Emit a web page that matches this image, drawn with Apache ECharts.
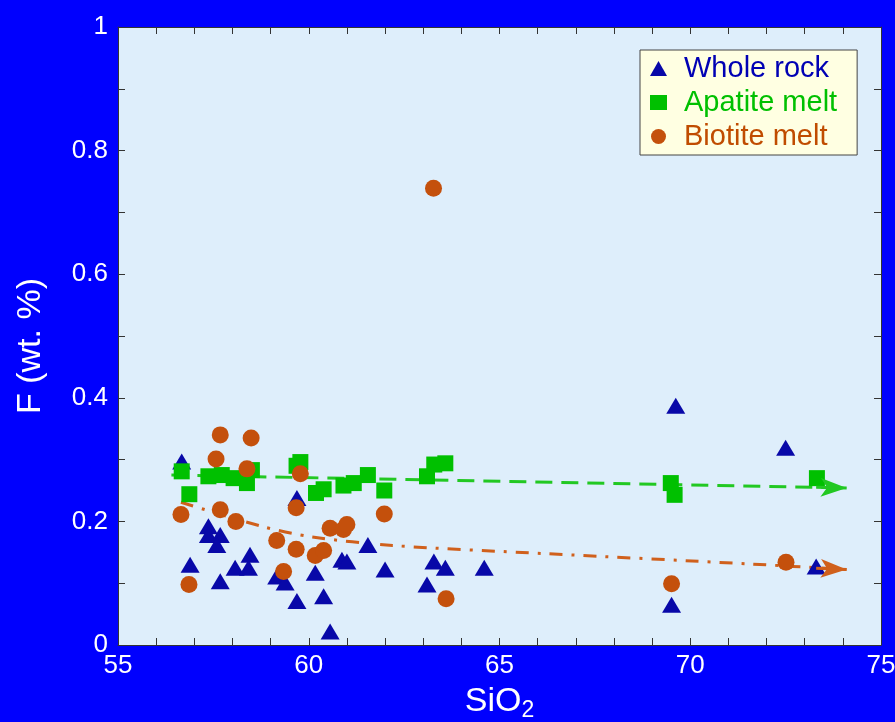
<!DOCTYPE html>
<html>
<head>
<meta charset="utf-8">
<script src="https://cdn.jsdelivr.net/npm/echarts@6/dist/echarts.min.js"></script>
<style>
  html, body { margin: 0; padding: 0; background: #0000fe; }
  #chart { width: 895px; height: 722px; }
</style>
</head>
<body>
<div id="chart"></div>
<script>
// SiO2 (x) vs F wt.% (y)
var wholeRock = [[56.67,0.297],[56.89,0.130],[57.37,0.192],[57.37,0.178],[57.68,0.178],[57.59,0.162],[57.68,0.103],[58.07,0.125],[58.42,0.125],[58.46,0.146],[59.16,0.111],[59.38,0.101],[59.69,0.238],[59.69,0.071],[60.17,0.117],[60.39,0.079],[60.56,0.022],[60.87,0.138],[61.0,0.135],[61.55,0.162],[62.0,0.122],[63.1,0.098],[63.28,0.135],[63.58,0.125],[64.6,0.125],[69.51,0.065],[69.62,0.387],[72.5,0.319],[73.3,0.127]];
var apatiteMelt = [[56.67,0.281],[56.87,0.244],[57.37,0.273],[57.72,0.275],[58.03,0.270],[58.38,0.262],[58.51,0.283],[59.68,0.290],[59.78,0.296],[60.19,0.246],[60.39,0.252],[60.91,0.258],[61.18,0.262],[61.55,0.275],[61.98,0.250],[63.1,0.273],[63.29,0.292],[63.58,0.294],[69.49,0.262],[69.59,0.243],[73.32,0.270]];
var biotiteMelt = [[56.65,0.211],[56.86,0.098],[57.57,0.301],[57.68,0.340],[57.68,0.219],[58.09,0.200],[58.38,0.285],[58.49,0.335],[59.16,0.169],[59.34,0.119],[59.67,0.222],[59.67,0.155],[59.78,0.277],[60.17,0.145],[60.39,0.153],[60.56,0.189],[60.91,0.187],[61.0,0.195],[61.98,0.212],[63.27,0.739],[63.60,0.075],[69.51,0.099],[72.51,0.134]];

// trend arrows
var greenTrend = [[56.4,0.275],[74.1,0.254]];
var orangeTrend = [[56.65,0.231],[58.77,0.192],[60.08,0.175],[62.2,0.161],[66.15,0.148],[71.6,0.131],[74.1,0.122]];
var greenHead = [[73.3,0.2553],[74.1,0.254]];
var orangeHead = [[73.3,0.1242],[74.1,0.122]];

var xTicks = [55, 60, 65, 70, 75];
var yTicks = [0, 0.2, 0.4, 0.6, 0.8, 1];

var font = 'Liberation Sans, Arial, sans-serif';
var frame = '#333';

var chart = echarts.init(document.getElementById('chart'));

function axisBase(extra) {
  var a = {
    type: 'value',
    axisLine: { show: true, onZero: false, lineStyle: { color: frame, width: 1 } },
    axisTick: { show: true, inside: true, length: 7, lineStyle: { color: frame } },
    splitLine: { show: false },
    axisLabel: { show: false }
  };
  for (var k in extra) a[k] = extra[k];
  return a;
}

function headLine(pts) {
  return {
    silent: true,
    symbol: ['none', 'arrow'],
    symbolSize: [14, 26],
    label: { show: false },
    lineStyle: { type: 'solid', width: 3 },
    animation: false,
    data: [[{ coord: pts[0] }, { coord: pts[1] }]]
  };
}

chart.setOption({
  backgroundColor: '#0000fe',
  animation: false,
  textStyle: { fontFamily: font },
  grid: {
    left: 118, right: 14, top: 27, bottom: 77,
    outerBoundsMode: 'none',
    containLabel: false,
    show: true, backgroundColor: '#deeefb', borderWidth: 0
  },
  legend: {
    left: 640, top: 50,
    orient: 'vertical',
    backgroundColor: '#ffffe2',
    borderColor: '#444',
    borderWidth: 1,
    padding: [4, 20, 4, 10],
    itemWidth: 17, itemHeight: 15,
    itemGap: 5,
    textStyle: { fontSize: 29, fontFamily: font, padding: [0, 0, 0, 12] },
    data: [
      { name: 'Whole rock', icon: 'triangle', textStyle: { color: '#0000b4' } },
      { name: 'Apatite melt', icon: 'rect', textStyle: { color: '#00c000' } },
      { name: 'Biotite melt', icon: 'circle', textStyle: { color: '#c04c00' } }
    ]
  },
  xAxis: [
    axisBase({
      min: xTicks[0], max: xTicks[xTicks.length - 1], interval: 5,
      position: 'bottom',
      minorTick: { show: true, splitNumber: 5, length: 7, lineStyle: { color: frame } },
      axisLabel: { show: true, color: '#fff', fontSize: 26, margin: 8, fontFamily: font },
      name: '{a|SiO}{b|2}',
      nameLocation: 'middle',
      nameGap: 36,
      nameTextStyle: {
        color: '#fff',
        rich: {
          a: { fontSize: 34, color: '#fff', fontFamily: font },
          b: { fontSize: 23, color: '#fff', fontFamily: font, padding: [18, 0, 0, 0] }
        }
      }
    }),
    axisBase({
      min: xTicks[0], max: xTicks[xTicks.length - 1], interval: 5,
      position: 'top',
      minorTick: { show: true, splitNumber: 5, length: 7, lineStyle: { color: frame } }
    })
  ],
  yAxis: [
    axisBase({
      min: yTicks[0], max: yTicks[yTicks.length - 1], interval: 0.2,
      position: 'left',
      minorTick: { show: true, splitNumber: 2, length: 7, lineStyle: { color: frame } },
      axisLabel: { show: true, color: '#fff', fontSize: 26, margin: 10, fontFamily: font },
      name: 'F (wt. %)',
      nameLocation: 'middle',
      nameRotate: 90,
      nameGap: 70,
      nameTextStyle: { color: '#fff', fontSize: 34, fontFamily: font, padding: [0, 20, 0, 0] }
    }),
    axisBase({
      min: yTicks[0], max: yTicks[yTicks.length - 1], interval: 0.2,
      position: 'right',
      minorTick: { show: true, splitNumber: 2, length: 7, lineStyle: { color: frame } }
    })
  ],
  series: [
    {
      name: 'apatite trend',
      type: 'line',
      data: greenTrend,
      symbol: 'none',
      lineStyle: { color: '#22c822', width: 3, type: [17, 9] },
      itemStyle: { color: '#22c822' },
      markLine: headLine(greenHead),
      z: 1
    },
    {
      name: 'biotite trend',
      type: 'line',
      data: orangeTrend,
      smooth: 0.3,
      symbol: 'none',
      lineStyle: { color: '#d0601c', width: 3, type: [13, 9, 3, 9] },
      itemStyle: { color: '#d0601c' },
      markLine: headLine(orangeHead),
      z: 1
    },
    {
      name: 'Whole rock',
      type: 'scatter',
      data: wholeRock,
      symbol: 'triangle',
      symbolSize: [19, 16],
      itemStyle: { color: '#0808a8', opacity: 1 },
      z: 2
    },
    {
      name: 'Apatite melt',
      type: 'scatter',
      data: apatiteMelt,
      symbol: 'rect',
      symbolSize: 16,
      itemStyle: { color: '#00c000', opacity: 1 },
      z: 3
    },
    {
      name: 'Biotite melt',
      type: 'scatter',
      data: biotiteMelt,
      symbol: 'circle',
      symbolSize: 17,
      itemStyle: { color: '#c4500c', opacity: 1 },
      z: 4
    }
  ]
});
</script>
</body>
</html>
